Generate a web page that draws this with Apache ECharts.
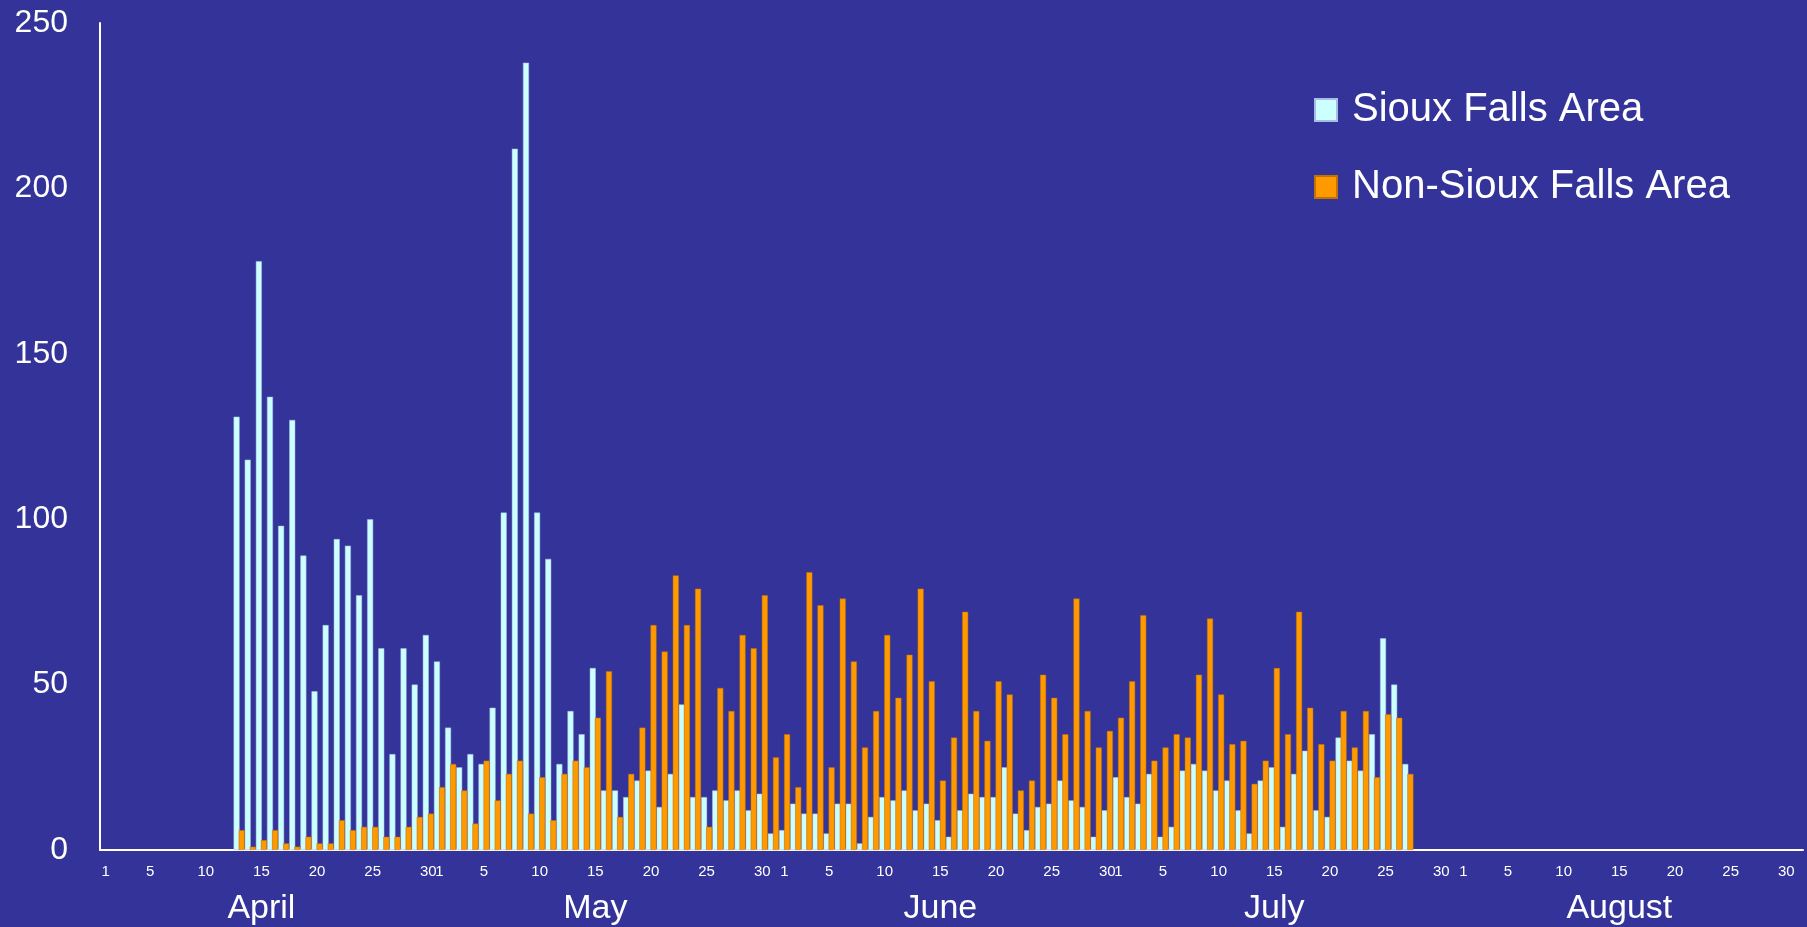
<!DOCTYPE html>
<html>
<head>
<meta charset="utf-8">
<script src="https://cdn.jsdelivr.net/npm/echarts@6/dist/echarts.min.js"></script>
<style>
  html, body { margin: 0; padding: 0; background: #333399; }
  #echart { width: 1807px; height: 927px; }
</style>
</head>
<body>
<div id="echart"></div>
<script>
// months shown on the axis, and how many days each has
var months = ['April', 'May', 'June', 'July', 'August'];
var monthDays = [30, 31, 30, 31, 31];
// day numbers that carry a tick label
var dayTicks = [1, 5, 10, 15, 20, 25, 30];
// category index where each month name sits
var monthLabelIdx = [14, 44, 75, 105, 136];

// daily counts, Apr 13 .. Jul 27
var firstDataIdx = 12;
var siouxFalls = [
    131, 118, 178, 137, 98, 130, 89, 48, 68, 94, 92, 77, 100, 61, 29, 61, 50, 65,
    57, 37, 25, 29, 26, 43, 102, 212, 238, 102, 88, 26, 42, 35, 55, 18, 18, 16,
    21, 24, 13, 23, 44, 16, 16, 18, 15, 18, 12, 17, 5,
    6, 14, 11, 11, 5, 14, 14, 2, 10, 16, 15, 18, 12, 14, 9, 4, 12, 17, 16, 16,
    25, 11, 6, 13, 14, 21, 15, 13, 4, 12,
    22, 16, 14, 23, 4, 7, 24, 26, 24, 18, 21, 12, 5, 21, 25, 7, 23, 30, 12, 10,
    34, 27, 24, 35, 64, 50, 26
];
var nonSiouxFalls = [
    6, 1, 3, 6, 2, 1, 4, 2, 2, 9, 6, 7, 7, 4, 4, 7, 10, 11,
    19, 26, 18, 8, 27, 15, 23, 27, 11, 22, 9, 23, 27, 25, 40, 54, 10, 23,
    37, 68, 60, 83, 68, 79, 7, 49, 42, 65, 61, 77, 28,
    35, 19, 84, 74, 25, 76, 57, 31, 42, 65, 46, 59, 79, 51, 21, 34, 72, 42, 33, 51,
    47, 18, 21, 53, 46, 35, 76, 42, 31, 36,
    40, 51, 71, 27, 31, 35, 34, 53, 70, 47, 32, 33, 20, 27, 55, 35, 72, 43, 32, 27,
    42, 31, 42, 22, 41, 40, 23
];

var categories = [];
var dayOf = [];
for (var m = 0; m < months.length; m++) {
    for (var d = 1; d <= monthDays[m]; d++) {
        categories.push(months[m] + ' ' + d);
        dayOf.push(d);
    }
}

function pad(values) {
    var out = [];
    for (var i = 0; i < categories.length; i++) {
        var v = values[i - firstDataIdx];
        out.push(v === undefined ? null : v);
    }
    return out;
}

var font = '"Liberation Sans", Arial, sans-serif';
var myChart = echarts.init(document.getElementById('echart'));
var option = {
    backgroundColor: '#333399',
    animation: false,
    textStyle: { fontFamily: font },
    legend: {
        orient: 'vertical',
        left: 1309,
        top: 83,
        itemWidth: 22,
        itemHeight: 22,
        itemGap: 33,
        textStyle: {
            color: '#ffffff',
            fontSize: 40,
            lineHeight: 44,
            fontFamily: font,
            padding: [0, 0, 0, 10]
        },
        data: [
            { name: 'Sioux Falls Area', icon: 'rect' },
            { name: 'Non-Sioux Falls Area', icon: 'rect' }
        ]
    },
    grid: {
        left: 100,
        right: 4,
        top: 23,
        bottom: 77,
        containLabel: false
    },
    xAxis: [
        {
            type: 'category',
            data: categories,
            axisLine: { lineStyle: { color: '#ffffff', width: 2 } },
            axisTick: { show: false },
            axisLabel: {
                color: '#ffffff',
                fontSize: 15,
                margin: 14,
                fontFamily: font,
                interval: function (idx) {
                    return dayTicks.indexOf(dayOf[idx]) >= 0;
                },
                formatter: function (val, idx) {
                    return String(dayOf[idx]);
                }
            }
        },
        {
            type: 'category',
            data: categories,
            position: 'bottom',
            axisLine: { show: false },
            axisTick: { show: false },
            axisLabel: {
                color: '#ffffff',
                fontSize: 34,
                margin: 42,
                fontFamily: font,
                interval: function (idx) {
                    return monthLabelIdx.indexOf(idx) >= 0;
                },
                formatter: function (val, idx) {
                    return months[monthLabelIdx.indexOf(idx)];
                }
            }
        }
    ],
    yAxis: {
        type: 'value',
        min: 0,
        max: 250,
        interval: 50,
        axisLine: { show: true, lineStyle: { color: '#ffffff', width: 2 } },
        axisTick: { show: false },
        splitLine: { show: false },
        axisLabel: {
            color: '#ffffff',
            fontSize: 32,
            margin: 32,
            fontFamily: font
        }
    },
    series: [
        {
            name: 'Sioux Falls Area',
            type: 'bar',
            barWidth: 6,
            barGap: '-15%',
            itemStyle: { color: '#ccffff', borderColor: '#a9bde3', borderWidth: 0.5 },
            data: pad(siouxFalls)
        },
        {
            name: 'Non-Sioux Falls Area',
            type: 'bar',
            barWidth: 6,
            barGap: '-15%',
            itemStyle: { color: '#ff9900', borderColor: '#c07300', borderWidth: 0.5 },
            data: pad(nonSiouxFalls)
        }
    ]
};
myChart.setOption(option);
</script>
</body>
</html>
